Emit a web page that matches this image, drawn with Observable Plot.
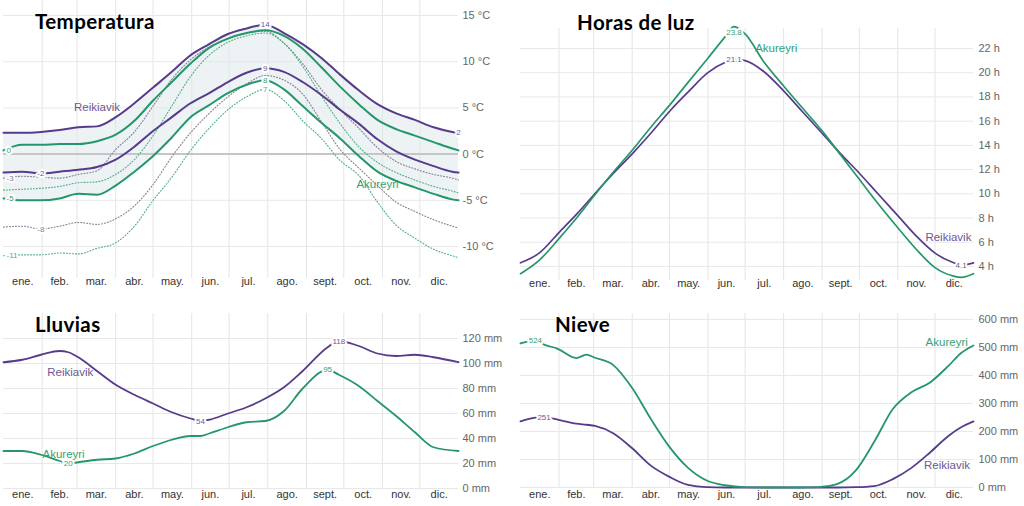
<!DOCTYPE html>
<html><head><meta charset="utf-8">
<script src="https://cdn.jsdelivr.net/npm/d3@7"></script>
<script src="https://cdn.jsdelivr.net/npm/@observablehq/plot@0.6"></script>
<style>
html,body{margin:0;padding:0;background:#fff;}
#root{position:relative;width:1024px;height:506px;overflow:hidden;background:#fff;}
#root svg{position:absolute;left:0;top:0;}
.title{position:absolute;font-family:Lato,"Open Sans",sans-serif;font-weight:700;font-size:20.5px;line-height:1;letter-spacing:0.4px;color:#000;white-space:nowrap;z-index:5;}
</style></head><body><div id="root"></div>
<script>
// ---------- data ----------
const months = ["ene.","feb.","mar.","abr.","may.","jun.","jul.","ago.","sept.","oct.","nov.","dic."];
const monthStarts = [31,59,90,120,151,181,212,243,273,304,334];
const monthMids = [15.5,45,74.5,105,135.5,166,196.5,227.5,258,288.5,319,349.5];

// Temperatura (°C)
const tempDays = [0,15,30,45,60,75,90,105,120,135,150,165,180,195,210,225,240,255,270,285,300,315,330,345,360,365];
const reikHigh = [2.3,2.3,2.4,2.6,2.9,3.0,4.0,5.5,7.2,8.9,10.7,11.9,13.0,13.6,14.0,13.1,11.9,10.4,8.6,6.9,5.4,4.4,3.7,2.9,2.4,2.3];
const reikLow = [-2.0,-1.9,-2.1,-1.9,-1.7,-1.4,-0.6,0.8,2.5,4.0,5.5,6.6,7.8,8.8,9.3,8.9,7.8,6.4,4.8,3.3,1.6,0.3,-0.6,-1.3,-1.9,-2.0];
const akuHigh = [0.4,1.0,1.0,1.1,1.1,1.4,2.1,3.6,5.8,7.8,9.8,11.5,12.5,13.1,13.4,12.8,11.4,9.4,7.3,5.4,3.7,2.7,2.0,1.3,0.6,0.4];
const akuLow = [-4.8,-5.0,-5.0,-4.8,-4.3,-4.4,-3.4,-1.9,-0.2,1.8,4.0,5.3,6.6,7.5,8.0,7.0,5.2,3.4,1.7,-0.2,-1.9,-2.9,-3.6,-4.3,-4.9,-5.0];
const reikFeelHigh = [-2.6,-2.4,-2.5,-2.6,-2.2,-1.8,0.5,2.4,5.2,8.1,10.2,11.6,12.5,13.1,13.3,12.0,9.8,7.0,4.8,2.8,0.7,-0.8,-1.6,-2.2,-2.6,-2.8];
const reikFeelLow = [-7.9,-7.8,-8.1,-7.8,-7.4,-7.6,-7.0,-5.6,-3.3,-0.3,2.3,4.4,6.2,7.6,8.5,8.0,6.5,3.5,0.5,-1.5,-3.4,-5.2,-6.2,-7.1,-7.8,-8.0];
const akuFeelHigh = [-3.9,-3.8,-3.7,-3.5,-3.1,-3.0,-2.2,-0.6,2.0,5.2,8.4,10.7,12.1,12.8,13.1,12.0,9.5,6.3,3.3,0.8,-0.9,-2.0,-2.8,-3.5,-4.0,-4.2];
const akuFeelLow = [-11.0,-10.9,-10.9,-10.7,-10.8,-10.2,-9.6,-7.8,-5.0,-2.5,0.4,2.8,4.8,6.2,7.0,5.8,3.6,1.7,-0.7,-2.3,-5.2,-7.7,-9.1,-10.3,-11.0,-11.2];
const tempTicks = [-10,-5,0,5,10,15];

// Horas de luz (h)
const luzDays = [0,15,31,46,59,74,90,105,120,135,151,166,172,181,196,212,227,243,258,273,288,304,319,334,349,355,365];
const reikLuz = [4.3,5.1,6.8,8.4,9.9,11.6,13.3,15.0,16.8,18.4,20.0,20.9,21.1,21.0,20.1,18.5,16.8,15.0,13.3,11.7,10.0,8.2,6.5,5.1,4.3,4.1,4.3];
const akuLuz = [3.4,4.5,6.3,8.1,9.8,11.7,13.6,15.5,17.3,19.2,21.2,23.1,23.8,23.2,20.9,18.9,17.1,15.2,13.2,11.2,9.2,7.2,5.4,3.9,3.2,3.1,3.4];
const luzTicks = [4,6,8,10,12,14,16,18,20,22];

// Lluvias (mm)
const rainDays = [0,15,30,45,52,60,75,90,105,120,135,150,158,165,180,195,210,225,240,260,269,285,300,315,330,345,365];
const reikRain = [101,103,107,110,109,105,94,83,75,68,61,56,54,55,60,65,72,81,94,113,118,114,108,106,107,105,101];
const akuRain = [30,30,27,22,20,21,23,24,28,34,39,42,42,44,49,53,54,62,80,95,91,82,70,58,45,33,30];
const rainTicks = [0,20,40,60,80,100,120];

// Nieve (mm)
const snowDays = [0,12,19,30,45,53,60,75,90,105,120,135,150,165,180,195,210,225,240,255,270,285,300,315,330,345,355,365];
const reikSnow = [236,249,251,242,228,224,220,193,140,78,38,9,1,0,0,0,0,0,0,0,1,5,30,70,125,185,215,236];
const akuSnow = [514,524,510,495,462,474,463,436,355,245,145,70,25,8,1,0,0,0,1,12,60,163,280,340,375,435,480,507];
const snowTicks = [0,100,200,300,400,500,600];

// value labels (series, day)
const tempLabels = [["reikHigh",210],["reikHigh",365],["reikLow",30],["reikLow",210],["akuHigh",0],["akuLow",0],["akuLow",210],["reikFeelHigh",0],["reikFeelLow",30],["akuFeelLow",0],["akuFeelLow",210]];
const luzLabels = [["aku",172],["reik",172],["reik",355]];
const rainLabels = [["reik",158],["reik",269],["aku",52],["aku",260]];
const snowLabels = [["aku",12],["reik",19]];

// ---------- rendering ----------
const W = 1024, H = 506;
const curve = "monotone-x";
const PURPLE = "#583a8c", GREEN = "#24976a";
const PURPLE_T = "#6d5895", GREEN_T = "#34a276";
const FONT = "'Liberation Sans', Arial, sans-serif";

function table(days, cols) {
  return days.map((d, i) => { const o = {day: d}; for (const k in cols) o[k] = cols[k][i]; return o; });
}
function frame(l, r, t, b) {
  return {width: W, height: H, marginLeft: l, marginRight: W - r, marginTop: t, marginBottom: H - b,
    style: {fontFamily: FONT, fontSize: "11px", background: "transparent", overflow: "visible"}};
}
function labelRows(spec, tbl, days, fmt) {
  return spec.map(([s, d]) => { const row = tbl[days.indexOf(d)]; return {day: d, value: row[s], s, text: fmt(row[s])}; });
}
function monthText(dy) {
  return Plot.text(monthMids, {x: d => d, text: d => months[monthMids.indexOf(d)], frameAnchor: "bottom", dy, fill: "#333", fontSize: 11});
}
function yText(ticks, fmt, dx) {
  return Plot.text(ticks, {y: d => d, text: fmt, frameAnchor: "right", textAnchor: "start", dx, fill: "#666", fontSize: 11});
}
function valueText(rows, colorOf, opts = {}) {
  return Plot.text(rows, {x: "day", y: "value", text: "text", fill: d => colorOf(d.s), stroke: "white", strokeWidth: 4, fontSize: 8, ...opts});
}
function valueTexts(rows, colorOf) {
  return [
    valueText(rows.filter(d => d.day === 0), colorOf, {textAnchor: "start", dx: 3}),
    valueText(rows.filter(d => d.day !== 0), colorOf)
  ];
}
function nameText(row, name, color, dx, dy, anchor = "middle") {
  return Plot.text([row], {x: "day", y: "value", text: () => name, fill: color, fontSize: 11.5, dx, dy, textAnchor: anchor});
}
const root = document.getElementById("root");

// Panel 1: Temperatura
{
  const T = table(tempDays, {reikHigh, reikLow, akuHigh, akuLow, reikFeelHigh, reikFeelLow, akuFeelHigh, akuFeelLow});
  const isReik = s => s.startsWith("reik");
  const col = s => s.includes("Feel") ? (isReik(s) ? "#857e96" : "#4fae84") : (isReik(s) ? PURPLE_T : GREEN_T);
  const L = labelRows(tempLabels, T, tempDays, v => String(Math.round(v)));
  const at = (s, d) => ({day: d, value: T[tempDays.indexOf(d)][s]});
  root.appendChild(Plot.plot({
    ...frame(3, 458, 0, 278),
    x: {domain: [0, 365], axis: null}, y: {domain: [-13.46, 16.62], axis: null},
    marks: [
      Plot.ruleX(monthStarts, {stroke: "#e4e4e4"}),
      Plot.ruleY(tempTicks.filter(t => t !== 0), {stroke: "#e8e8e8"}),
      Plot.areaY(T, {x: "day", y1: "akuLow", y2: "reikHigh", curve, fill: "#dfe7eb", fillOpacity: 0.55}),
      Plot.ruleY([0], {stroke: "#c6c6c6", strokeWidth: 2}),
      Plot.line(T, {x: "day", y: "reikFeelHigh", curve, stroke: "#857e96", strokeWidth: 1.1, strokeDasharray: "1,2"}),
      Plot.line(T, {x: "day", y: "reikFeelLow", curve, stroke: "#857e96", strokeWidth: 1.1, strokeDasharray: "1,2"}),
      Plot.line(T, {x: "day", y: "akuFeelHigh", curve, stroke: "#4fae84", strokeWidth: 1.1, strokeDasharray: "1,2"}),
      Plot.line(T, {x: "day", y: "akuFeelLow", curve, stroke: "#4fae84", strokeWidth: 1.1, strokeDasharray: "1,2"}),
      Plot.line(T, {x: "day", y: "reikHigh", curve, stroke: PURPLE, strokeWidth: 2}),
      Plot.line(T, {x: "day", y: "reikLow", curve, stroke: PURPLE, strokeWidth: 2}),
      Plot.line(T, {x: "day", y: "akuHigh", curve, stroke: GREEN, strokeWidth: 2}),
      Plot.line(T, {x: "day", y: "akuLow", curve, stroke: GREEN, strokeWidth: 2}),
      ...valueTexts(L, col),
      nameText(at("reikHigh", 75), "Reikiavik", PURPLE_T, 0, -19),
      nameText(at("akuLow", 300), "Akureyri", GREEN_T, 0, 13),
      monthText(6),
      yText(tempTicks, d => `${d} °C`, 4)
    ]
  }));
}

// Panel 2: Horas de luz
{
  const T = table(luzDays, {reik: reikLuz, aku: akuLuz});
  const L = labelRows(luzLabels, T, luzDays, v => v.toFixed(1));
  const colorOf = s => s === "reik" ? PURPLE_T : GREEN_T;
  const at = (s, d) => ({day: d, value: T[luzDays.indexOf(d)][s]});
  root.appendChild(Plot.plot({
    ...frame(520, 973, 28, 280),
    x: {domain: [0, 365], axis: null}, y: {domain: [2.84, 23.65], axis: null},
    marks: [
      Plot.ruleX(monthStarts, {stroke: "#e4e4e4"}),
      Plot.ruleY(luzTicks, {stroke: "#e8e8e8"}),
      Plot.line(T, {x: "day", y: "reik", curve, stroke: PURPLE, strokeWidth: 1.7}),
      Plot.line(T, {x: "day", y: "aku", curve, stroke: GREEN, strokeWidth: 1.7}),
      valueText(L.filter(d => d.s === "aku"), colorOf, {dy: 6}),
      valueText(L.filter(d => d.s === "reik"), colorOf),
      nameText(at("aku", 181), "Akureyri", GREEN_T, 10, 14, "start"),
      nameText(at("reik", 319), "Reikiavik", PURPLE_T, 9, 1, "start"),
      monthText(6),
      yText(luzTicks, d => `${d} h`, 5)
    ]
  }));
}

// Panel 3: Lluvias
{
  const T = table(rainDays, {reik: reikRain, aku: akuRain});
  const L = labelRows(rainLabels, T, rainDays, v => String(Math.round(v)));
  const at = (s, d) => ({day: d, value: T[rainDays.indexOf(d)][s]});
  root.appendChild(Plot.plot({
    ...frame(3, 458, 313, 488),
    x: {domain: [0, 365], axis: null}, y: {domain: [0, 140], axis: null},
    marks: [
      Plot.ruleX(monthStarts, {stroke: "#e4e4e4"}),
      Plot.ruleY(rainTicks, {stroke: "#e8e8e8"}),
      Plot.line(T, {x: "day", y: "reik", curve, stroke: PURPLE, strokeWidth: 1.8}),
      Plot.line(T, {x: "day", y: "aku", curve, stroke: GREEN, strokeWidth: 1.8}),
      valueText(L, s => s === "reik" ? PURPLE_T : GREEN_T),
      nameText(at("reik", 60), "Reikiavik", PURPLE_T, -8, 15),
      nameText(at("aku", 45), "Akureyri", GREEN_T, 4, -7),
      monthText(9),
      yText(rainTicks, d => `${d} mm`, 4)
    ]
  }));
}

// Panel 4: Nieve
{
  const T = table(snowDays, {reik: reikSnow, aku: akuSnow});
  const L = labelRows(snowLabels, T, snowDays, v => String(Math.round(v)));
  const at = (s, d) => ({day: d, value: T[snowDays.indexOf(d)][s]});
  root.appendChild(Plot.plot({
    ...frame(520, 973, 313, 487),
    x: {domain: [0, 365], axis: null}, y: {domain: [0, 621], axis: null},
    marks: [
      Plot.ruleX(monthStarts, {stroke: "#e4e4e4"}),
      Plot.ruleY(snowTicks, {stroke: "#e8e8e8"}),
      Plot.line(T, {x: "day", y: "reik", curve, stroke: PURPLE, strokeWidth: 1.8}),
      Plot.line(T, {x: "day", y: "aku", curve, stroke: GREEN, strokeWidth: 1.8}),
      valueText(L, s => s === "reik" ? PURPLE_T : GREEN_T),
      nameText(at("aku", 345), "Akureyri", GREEN_T, -2, -23),
      nameText(at("reik", 330), "Reikiavik", PURPLE_T, 17, 13),
      monthText(10),
      yText(snowTicks, d => `${d} mm`, 5)
    ]
  }));
}

// Titles
[["Temperatura", 35, 11], ["Horas de luz", 577, 12], ["Lluvias", 35, 314], ["Nieve", 555, 314]].forEach(([t, x, y]) => {
  const d = document.createElement("div");
  d.className = "title"; d.textContent = t; d.style.left = x + "px"; d.style.top = y + "px";
  root.appendChild(d);
});
</script></body></html>
